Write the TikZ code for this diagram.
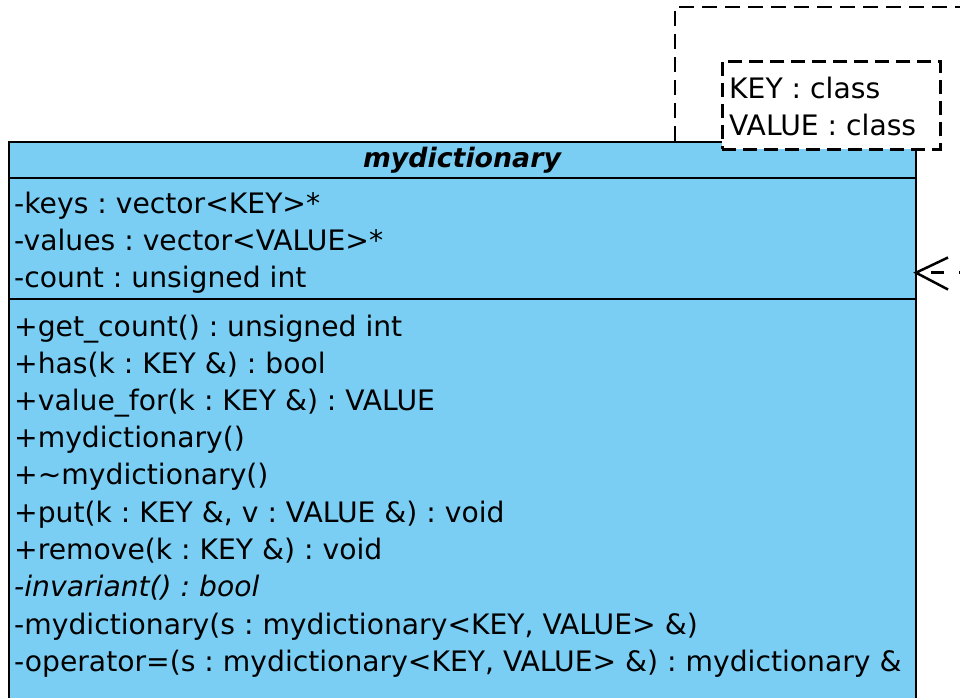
\documentclass[tikz,border=0pt]{standalone}
\usepackage{fontspec}
\newfontfamily\umlfont{DejaVu Sans}
\definecolor{classfill}{RGB}{122,206,244}
\tikzset{
  classbox/.style={draw=black, line width=2pt, fill=classfill, rectangle, inner sep=0pt},
  sepline/.style={draw=black, line width=2pt},
  member/.style={anchor=base west, inner sep=0pt, font=\umlfont\fontsize{28.2}{34}\selectfont\frenchspacing},
  tplbox/.style={draw=black, fill=white, line width=2.5pt, dash pattern=on 14pt off 7pt, rectangle, inner sep=0pt},
  tpltext/.style={anchor=base west, inner sep=0pt, font=\umlfont\fontsize{28.2}{34}\selectfont\frenchspacing},
  outerdash/.style={draw=black, line width=2.5pt, dash pattern=on 15pt off 8pt},
  depline/.style={draw=black, line width=2.5pt, dash pattern=on 13pt off 15pt, dash phase=13pt},
  dephead/.style={draw=black, line width=2.5pt},
}
\begin{document}
\begin{tikzpicture}[x=1pt,y=-1pt]
\useasboundingbox (0,0) rectangle (960,697);
\begin{scope}
\clip (0,0) rectangle (960,697);
% outer dashed package/template frame
\coordinate (oa) at (675,141);
\coordinate (ob) at (675,7);
\coordinate (oc) at (975,7);
\draw[outerdash] (oa) -- (ob) -- (oc);
% class box
\node[classbox, minimum width=907pt, minimum height=600pt, anchor=north west] (cls) at (8,141) {};
\coordinate (s1l) at (8,178);
\coordinate (s1r) at (915,178);
\coordinate (s2l) at (8,299);
\coordinate (s2r) at (915,299);
\draw[sepline] (s1l) -- (s1r);
\draw[sepline] (s2l) -- (s2r);
% title
\node[anchor=base, inner sep=0pt, font=\umlfont\fontsize{26.8}{32}\selectfont\bfseries\itshape] (title) at (462,167) {mydictionary};
% attributes
\node[member] (a1) at (14,213) {-keys : vector<KEY>*};
\node[member] (a2) at (14,250) {-values : vector<VALUE>*};
\node[member] (a3) at (14,287) {-count : unsigned int};
% operations
\node[member] (o1) at (14,336) {+get\_count() : unsigned int};
\node[member] (o2) at (14,373) {+has(k : KEY \&) : bool};
\node[member] (o3) at (14,410) {+value\_for(k : KEY \&) : VALUE};
\node[member] (o4) at (14,447) {+mydictionary()};
\node[member] (o5) at (14,484) {+\char`\~mydictionary()};
\node[member] (o6) at (14,522) {+put(k : KEY \&, v : VALUE \&) : void};
\node[member] (o7) at (14,559) {+remove(k : KEY \&) : void};
\node[member] (o8) at (14,596) {\itshape -invariant() : bool};
\node[member] (o9) at (14,634) {-mydictionary(s : mydictionary<KEY, VALUE> \&)};
\node[member] (o10) at (14,671) {-operator=(s : mydictionary<KEY, VALUE> \&) : mydictionary \&};
% template parameter box
\node[tplbox, minimum width=218pt, minimum height=88pt, anchor=north west] (tpl) at (721,60) {};
\node[tpltext] (t1) at (729,98.5) {KEY : class};
\node[tpltext] (t2) at (729,135.5) {VALUE : class};
% dependency connector
\coordinate (tip) at (916,272.7);
\coordinate (far) at (975,272.7);
\coordinate (hu) at (948,257.5);
\coordinate (hd) at (948,289.5);
\draw[depline] (tip) -- (far);
\draw[dephead] (hu) -- (tip) -- (hd);
\end{scope}
\end{tikzpicture}
\end{document}
